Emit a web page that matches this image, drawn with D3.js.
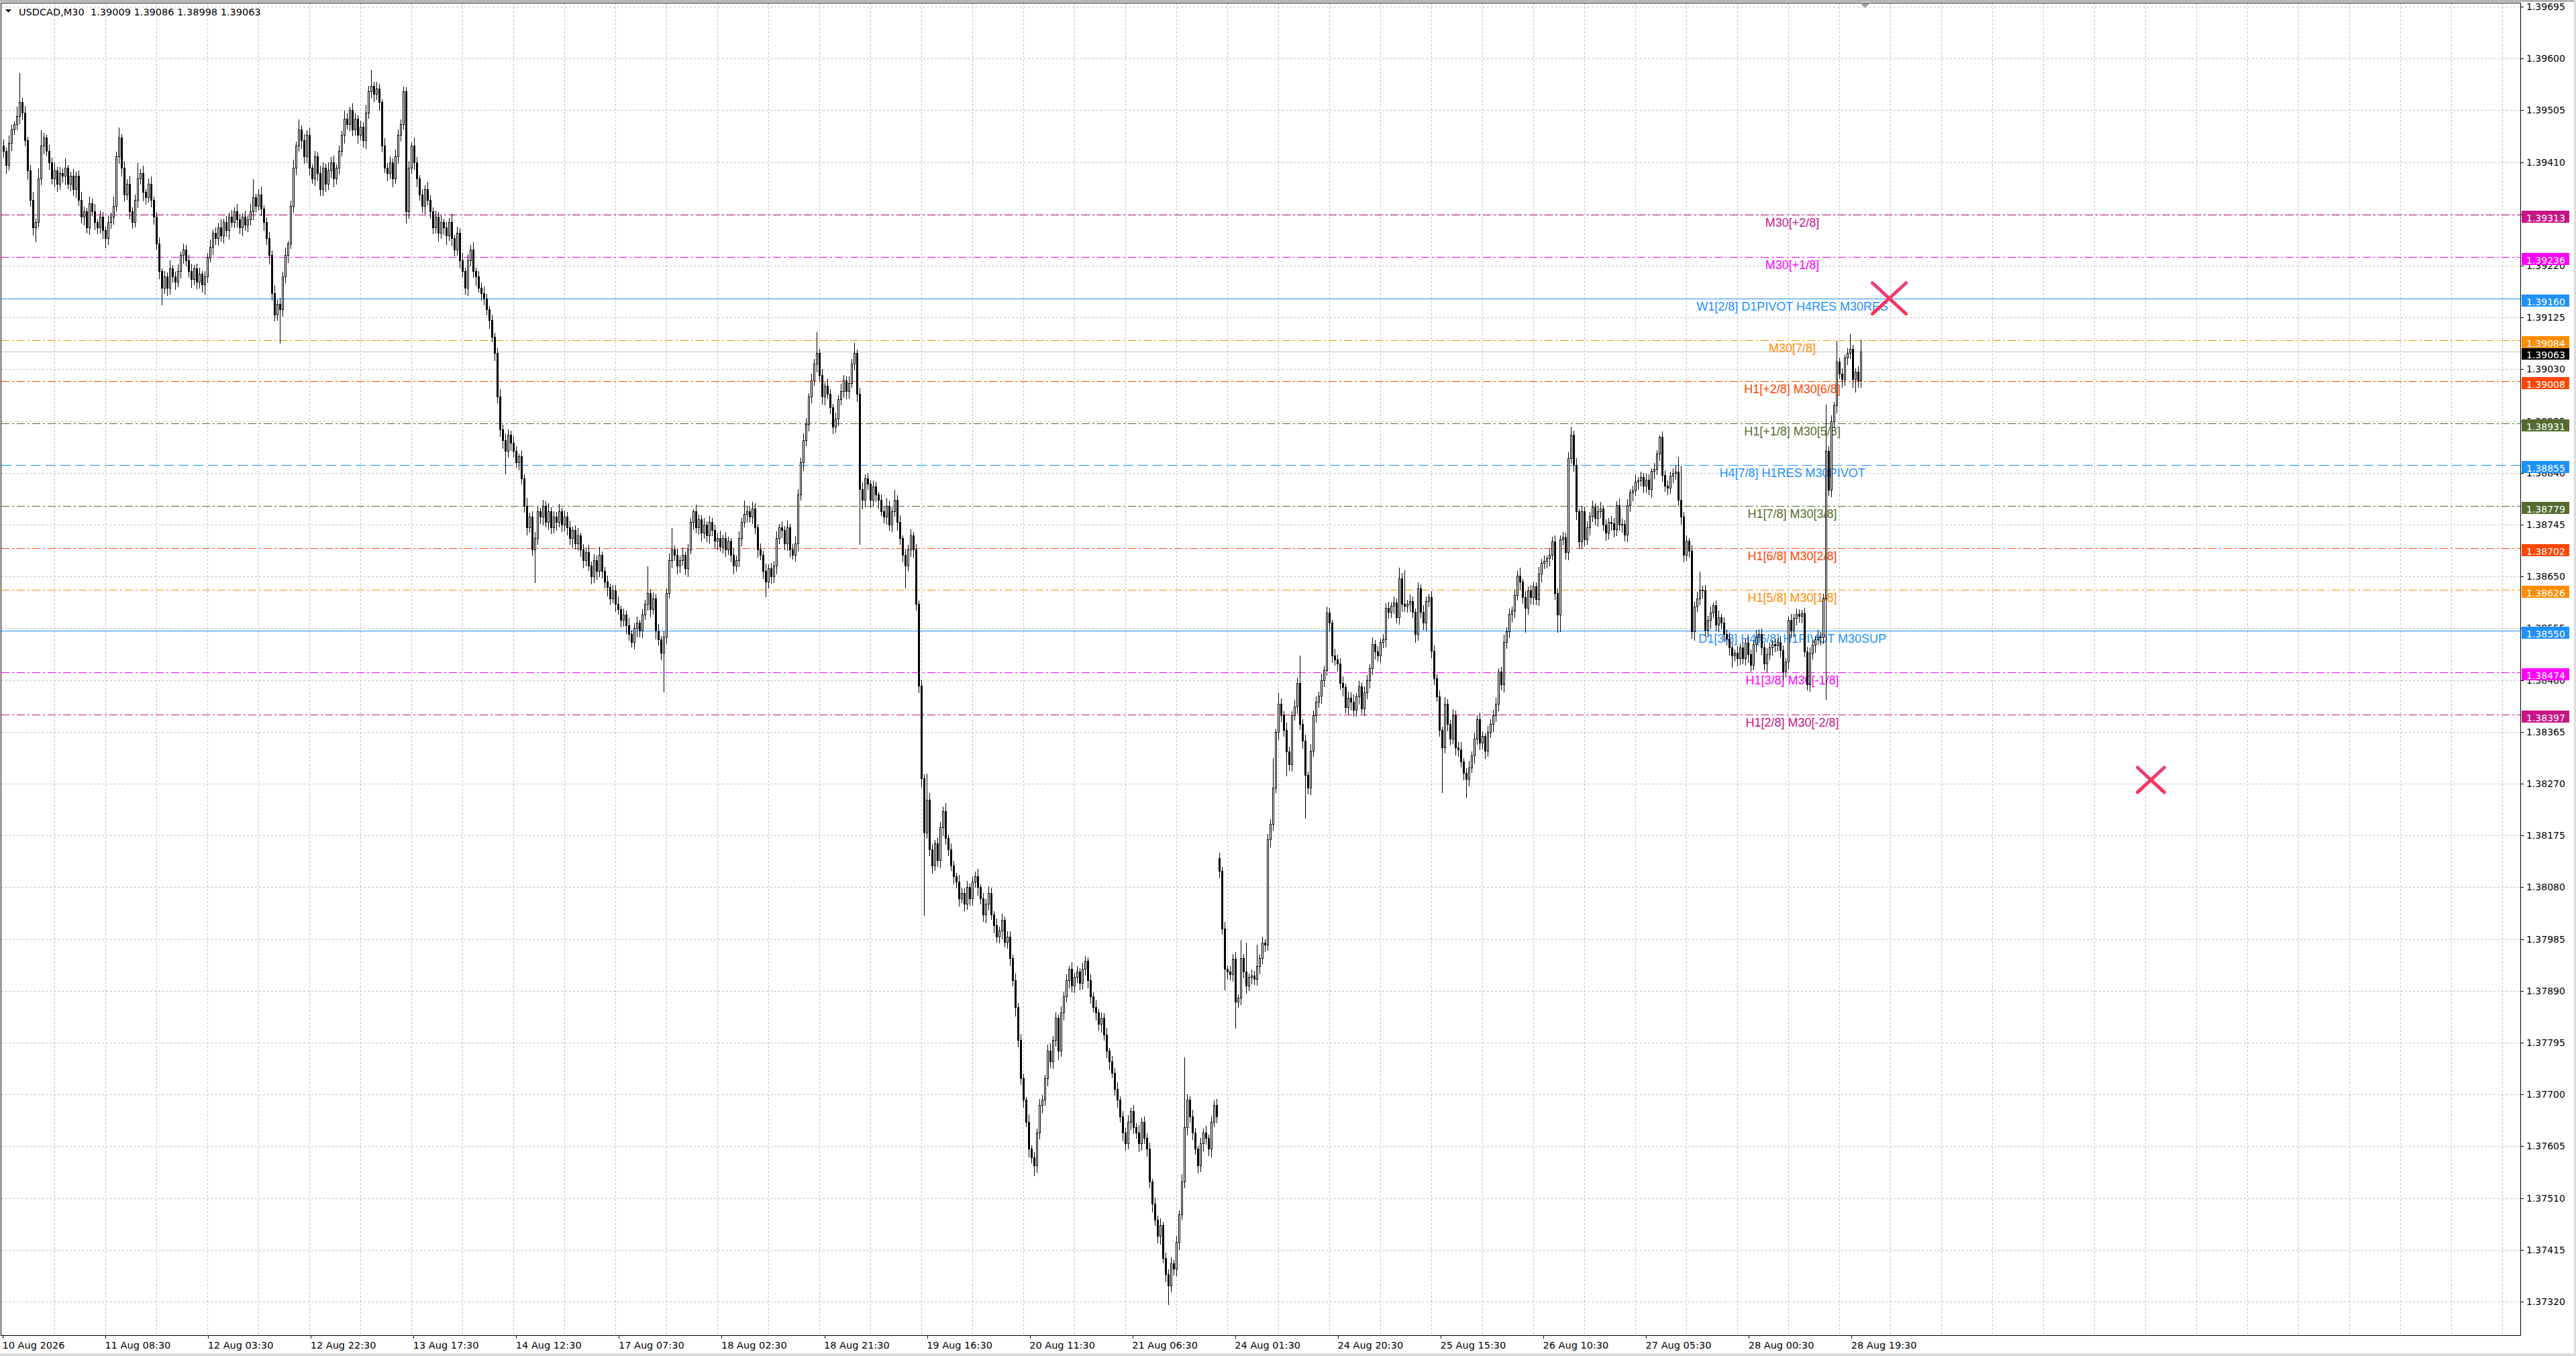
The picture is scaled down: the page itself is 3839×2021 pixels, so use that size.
<!DOCTYPE html>
<html lang="en">
<head>
  <meta charset="UTF-8">
  <title>USDCAD,M30</title>
  <script src="https://d3js.org/d3.v7.min.js"></script>
  <style>
    * { margin: 0; padding: 0; box-sizing: border-box; }
    body { background: #fff; overflow: hidden; }
    #chart svg { display: block; }
  </style>
</head>
<body>
  <div id="chart"></div>
  <script>
    // USDCAD M30, 10 Aug 13:30 .. 28 Aug 23:30, prices in points (0.00001) above 1.37000
    const symbol = "USDCAD,M30";
    const basePrice = 1.37;
    const point = 0.00001;

    const opens = [
      2440, 2430, 2405, 2445, 2470, 2480, 2495, 2520, 2500, 2450,
      2395, 2340, 2290, 2300, 2380, 2440, 2455, 2430, 2410, 2380,
      2395, 2370, 2390, 2385, 2400, 2370, 2385, 2360, 2385, 2340,
      2310, 2320, 2290, 2335, 2320, 2300, 2290, 2310, 2285, 2270,
      2300, 2310, 2330, 2420, 2455, 2400, 2350, 2370, 2320, 2300,
      2340, 2380, 2390, 2355, 2345, 2370, 2340, 2310, 2260, 2210,
      2180, 2200, 2180, 2215, 2200, 2190, 2210, 2240, 2250, 2230,
      2210, 2195, 2215, 2190, 2205, 2185, 2200, 2235, 2255, 2280,
      2270, 2290, 2275, 2300, 2285, 2310, 2300, 2320, 2305, 2290,
      2310, 2295, 2305, 2320, 2345, 2330, 2350, 2325, 2300, 2270,
      2240, 2170, 2130, 2150, 2140, 2200, 2240, 2260, 2330, 2400,
      2440, 2470, 2450, 2420, 2460, 2400, 2380, 2420, 2390, 2360,
      2400, 2370, 2395, 2410, 2380, 2400, 2430, 2460, 2490, 2480,
      2505, 2470, 2490, 2460, 2475, 2450, 2500, 2540, 2550, 2535,
      2545, 2520, 2440, 2400, 2390, 2410, 2380, 2420, 2460, 2480,
      2540, 2320, 2400, 2440, 2410, 2380, 2350, 2330, 2360, 2340,
      2320, 2290, 2310, 2280, 2300, 2290, 2275, 2300, 2270, 2250,
      2280, 2230, 2210, 2180, 2230, 2250, 2210, 2200, 2180, 2170,
      2160, 2140, 2120, 2090, 2060, 1980, 1920, 1900, 1880, 1910,
      1895, 1880, 1860, 1870, 1830, 1780, 1740, 1760, 1700, 1720,
      1770, 1760, 1780, 1750, 1770, 1740, 1760, 1750, 1770, 1745,
      1760, 1740, 1720, 1735, 1710, 1725, 1700, 1680, 1695, 1670,
      1650, 1680, 1660, 1690, 1660, 1640, 1630, 1610, 1625, 1600,
      1590, 1570, 1580, 1560, 1545, 1530, 1555, 1565, 1550, 1580,
      1600, 1620, 1590, 1610, 1550, 1535, 1510, 1540, 1620, 1680,
      1700, 1690, 1670, 1680, 1690, 1665, 1700, 1750, 1770, 1740,
      1755, 1730, 1745, 1725, 1750, 1735, 1715, 1720, 1705, 1720,
      1700, 1715, 1690, 1670, 1680, 1720, 1750, 1765, 1770, 1760,
      1775, 1740, 1700, 1690, 1660, 1640, 1665, 1650, 1670, 1720,
      1740, 1735, 1710, 1740, 1700, 1690, 1710, 1800, 1860, 1900,
      1930, 1980, 2010, 2040, 2060, 2020, 1980, 2000, 1985, 1960,
      1925, 1940, 1975, 1990, 2010, 1990, 2005, 2040, 2060, 1985,
      1810, 1790, 1830, 1820, 1790, 1815, 1800, 1790, 1770, 1760,
      1780, 1745, 1770, 1790, 1750, 1720, 1690, 1670, 1700, 1725,
      1700, 1600, 1450, 1280, 1180, 1240, 1150, 1120, 1160, 1130,
      1190, 1220, 1170, 1150, 1120, 1100, 1090, 1060, 1070, 1050,
      1080, 1060, 1090, 1100, 1080, 1060, 1030, 1050, 1070, 1030,
      1010, 990, 1000, 1020, 980, 990, 950, 910, 860, 800,
      730, 690, 650, 600, 585, 570, 630, 680, 690, 730,
      780, 760, 800, 840, 780, 850, 880, 910, 930, 900,
      915, 925, 905, 930, 945, 910, 880, 860, 850, 830,
      840, 810, 780, 760, 740, 710, 690, 660, 630, 610,
      650, 670, 640, 630, 610, 650, 620, 600, 540, 500,
      470, 440, 460, 400, 370, 350, 390, 380, 430, 480,
      540, 640, 690, 660, 630, 600, 570, 610, 630, 620,
      600, 650, 680, 1133, 1110, 1004, 930, 925, 920, 949,
      870, 878, 950, 925, 900, 915, 918, 912, 935, 950,
      978, 975, 1168, 1196, 1263, 1365, 1416, 1395, 1369, 1329,
      1306, 1396, 1412, 1455, 1380, 1349, 1286, 1263, 1330, 1395,
      1420, 1431, 1460, 1478, 1584, 1565, 1505, 1498, 1490, 1455,
      1447, 1410, 1428, 1420, 1405, 1430, 1448, 1408, 1437, 1460,
      1482, 1526, 1512, 1505, 1530, 1535, 1592, 1585, 1596, 1602,
      1575, 1647, 1600, 1596, 1600, 1605, 1585, 1545, 1628, 1585,
      1565, 1605, 1612, 1514, 1463, 1430, 1369, 1337, 1416, 1380,
      1353, 1396, 1337, 1333, 1311, 1290, 1278, 1300, 1322, 1353,
      1388, 1345, 1357, 1330, 1365, 1380, 1396, 1416, 1475, 1452,
      1530, 1549, 1581, 1588, 1616, 1651, 1640, 1612, 1592, 1624,
      1612, 1632, 1608, 1655, 1675, 1679, 1683, 1690, 1714, 1620,
      1580, 1718, 1722, 1694, 1867, 1910, 1855, 1769, 1714, 1770,
      1718, 1740, 1761, 1777, 1757, 1770, 1775, 1745, 1730, 1750,
      1748, 1737, 1781, 1745, 1746, 1726, 1781, 1804, 1808, 1824,
      1826, 1832, 1816, 1828, 1810, 1843, 1847, 1875, 1906, 1836,
      1816, 1813, 1835, 1840, 1842, 1790, 1760, 1690, 1715, 1697,
      1549, 1595, 1610, 1626, 1624, 1552, 1570, 1584, 1597, 1562,
      1575, 1565, 1545, 1536, 1520, 1505, 1510, 1500, 1520, 1500,
      1529, 1507, 1488, 1526, 1539, 1545, 1520, 1490, 1507, 1520,
      1526, 1524, 1530, 1515, 1475, 1494, 1570, 1550, 1574, 1581,
      1578, 1582, 1513, 1452, 1510, 1525, 1535, 1540, 1538, 1610,
      1880, 1809, 1935, 1964, 2044, 2022, 2012, 2051, 2060, 2067,
      2012, 2025, 2009
    ];

    const closes = [
      2430, 2405, 2445, 2470, 2480, 2495, 2520, 2500, 2450, 2395,
      2340, 2290, 2300, 2380, 2440, 2455, 2430, 2410, 2380, 2395,
      2370, 2390, 2385, 2400, 2370, 2385, 2360, 2385, 2340, 2310,
      2320, 2290, 2335, 2320, 2300, 2290, 2310, 2285, 2270, 2300,
      2310, 2330, 2420, 2455, 2400, 2350, 2370, 2320, 2300, 2340,
      2380, 2390, 2355, 2345, 2370, 2340, 2310, 2260, 2210, 2180,
      2200, 2180, 2215, 2200, 2190, 2210, 2240, 2250, 2230, 2210,
      2195, 2215, 2190, 2205, 2185, 2200, 2235, 2255, 2280, 2270,
      2290, 2275, 2300, 2285, 2310, 2300, 2320, 2305, 2290, 2310,
      2295, 2305, 2320, 2345, 2330, 2350, 2325, 2300, 2270, 2240,
      2170, 2130, 2150, 2140, 2200, 2240, 2260, 2330, 2400, 2440,
      2470, 2450, 2420, 2460, 2400, 2380, 2420, 2390, 2360, 2400,
      2370, 2395, 2410, 2380, 2400, 2430, 2460, 2490, 2480, 2505,
      2470, 2490, 2460, 2475, 2450, 2500, 2540, 2550, 2535, 2545,
      2520, 2440, 2400, 2390, 2410, 2380, 2420, 2460, 2480, 2540,
      2320, 2400, 2440, 2410, 2380, 2350, 2330, 2360, 2340, 2320,
      2290, 2310, 2280, 2300, 2290, 2275, 2300, 2270, 2250, 2280,
      2230, 2210, 2180, 2230, 2250, 2210, 2200, 2180, 2170, 2160,
      2140, 2120, 2090, 2060, 1980, 1920, 1900, 1880, 1910, 1895,
      1880, 1860, 1870, 1830, 1780, 1740, 1760, 1700, 1720, 1770,
      1760, 1780, 1750, 1770, 1740, 1760, 1750, 1770, 1745, 1760,
      1740, 1720, 1735, 1710, 1725, 1700, 1680, 1695, 1670, 1650,
      1680, 1660, 1690, 1660, 1640, 1630, 1610, 1625, 1600, 1590,
      1570, 1580, 1560, 1545, 1530, 1555, 1565, 1550, 1580, 1600,
      1620, 1590, 1610, 1550, 1535, 1510, 1540, 1620, 1680, 1700,
      1690, 1670, 1680, 1690, 1665, 1700, 1750, 1770, 1740, 1755,
      1730, 1745, 1725, 1750, 1735, 1715, 1720, 1705, 1720, 1700,
      1715, 1690, 1670, 1680, 1720, 1750, 1765, 1770, 1760, 1775,
      1740, 1700, 1690, 1660, 1640, 1665, 1650, 1670, 1720, 1740,
      1735, 1710, 1740, 1700, 1690, 1710, 1800, 1860, 1900, 1930,
      1980, 2010, 2040, 2060, 2020, 1980, 2000, 1985, 1960, 1925,
      1940, 1975, 1990, 2010, 1990, 2005, 2040, 2060, 1985, 1810,
      1790, 1830, 1820, 1790, 1815, 1800, 1790, 1770, 1760, 1780,
      1745, 1770, 1790, 1750, 1720, 1690, 1670, 1700, 1725, 1700,
      1600, 1450, 1280, 1180, 1240, 1150, 1120, 1160, 1130, 1190,
      1220, 1170, 1150, 1120, 1100, 1090, 1060, 1070, 1050, 1080,
      1060, 1090, 1100, 1080, 1060, 1030, 1050, 1070, 1030, 1010,
      990, 1000, 1020, 980, 990, 950, 910, 860, 800, 730,
      690, 650, 600, 585, 570, 630, 680, 690, 730, 780,
      760, 800, 840, 780, 850, 880, 910, 930, 900, 915,
      925, 905, 930, 945, 910, 880, 860, 850, 830, 840,
      810, 780, 760, 740, 710, 690, 660, 630, 610, 650,
      670, 640, 630, 610, 650, 620, 600, 540, 500, 470,
      440, 460, 400, 370, 350, 390, 380, 430, 480, 540,
      640, 690, 660, 630, 600, 570, 610, 630, 620, 600,
      650, 680, 660, 1110, 1004, 930, 925, 920, 949, 870,
      878, 950, 925, 900, 915, 918, 912, 935, 950, 978,
      975, 1168, 1196, 1263, 1365, 1416, 1395, 1369, 1329, 1306,
      1396, 1412, 1455, 1380, 1349, 1286, 1263, 1330, 1395, 1420,
      1431, 1460, 1478, 1584, 1565, 1505, 1498, 1490, 1455, 1447,
      1410, 1428, 1420, 1405, 1430, 1448, 1408, 1437, 1460, 1482,
      1526, 1512, 1505, 1530, 1535, 1592, 1585, 1596, 1602, 1575,
      1647, 1600, 1596, 1600, 1605, 1585, 1545, 1628, 1585, 1565,
      1605, 1612, 1514, 1463, 1430, 1369, 1337, 1416, 1380, 1353,
      1396, 1337, 1333, 1311, 1290, 1278, 1300, 1322, 1353, 1388,
      1345, 1357, 1330, 1365, 1380, 1396, 1416, 1475, 1452, 1530,
      1549, 1581, 1588, 1616, 1651, 1640, 1612, 1592, 1624, 1612,
      1632, 1608, 1655, 1675, 1679, 1683, 1690, 1714, 1620, 1580,
      1718, 1722, 1694, 1867, 1910, 1855, 1769, 1714, 1770, 1718,
      1740, 1761, 1777, 1757, 1770, 1775, 1745, 1730, 1750, 1748,
      1737, 1781, 1745, 1746, 1726, 1781, 1804, 1808, 1824, 1826,
      1832, 1816, 1828, 1810, 1843, 1847, 1875, 1906, 1836, 1816,
      1813, 1835, 1840, 1842, 1790, 1760, 1690, 1715, 1697, 1549,
      1595, 1610, 1626, 1624, 1552, 1570, 1584, 1597, 1562, 1575,
      1565, 1545, 1536, 1520, 1505, 1510, 1500, 1520, 1500, 1529,
      1507, 1488, 1526, 1539, 1545, 1520, 1490, 1507, 1520, 1526,
      1524, 1530, 1515, 1475, 1494, 1570, 1550, 1574, 1581, 1578,
      1582, 1513, 1452, 1510, 1525, 1535, 1540, 1538, 1610, 1880,
      1809, 1935, 1964, 2044, 2022, 2012, 2051, 2060, 2067, 2012,
      2025, 2009, 2063
    ];

    // wick length above / below the body, in points
    const wickUp = [
      12, 8, 15, 10, 6, 18, 55, 9, 14, 7,
      11, 16, 8, 20, 30, 10, 6, 13, 9, 15,
      7, 12, 10, 18, 6, 9, 14, 8, 11, 16,
      10, 7, 13, 9, 15, 6, 12, 10, 8, 14,
      9, 18, 11, 20, 7, 13, 10, 16, 8, 12,
      30, 9, 14, 7, 11, 15, 8, 10, 13, 6,
      12, 9, 16, 8, 10, 14, 7, 12, 9, 11,
      15, 8, 10, 13, 6, 12, 9, 14, 8, 11,
      10, 16, 7, 12, 9, 13, 8, 15, 10, 7,
      12, 9, 14, 35, 8, 11, 16, 7, 10, 13,
      9, 15, 8, 12, 10, 14, 7, 11, 16, 9,
      20, 8, 13, 10, 15, 7, 12, 9, 14, 11,
      8, 16, 10, 13, 7, 12, 9, 15, 11, 8,
      14, 10, 7, 12, 9, 16, 11, 30, 8, 13,
      10, 7, 15, 9, 12, 8, 14, 11, 10, 10,
      9, 13, 8, 16, 10, 7, 12, 9, 15, 11,
      8, 12, 10, 14, 7, 11, 9, 16, 8, 13,
      10, 15, 7, 12, 9, 14, 8, 11, 10, 13,
      9, 7, 12, 8, 10, 15, 9, 13, 11, 8,
      14, 10, 7, 12, 9, 16, 8, 11, 13, 10,
      7, 12, 9, 15, 8, 11, 10, 14, 7, 12,
      9, 13, 8, 10, 15, 7, 11, 9, 14, 8,
      12, 10, 16, 7, 9, 13, 8, 11, 10, 14,
      7, 12, 9, 15, 8, 10, 13, 7, 11, 9,
      50, 8, 12, 10, 14, 7, 11, 9, 13, 40,
      8, 12, 10, 15, 7, 11, 9, 5, 13, 10,
      8, 14, 7, 12, 9, 11, 10, 15, 8, 13,
      9, 7, 12, 10, 14, 8, 25, 11, 9, 13,
      10, 7, 12, 8, 15, 9, 11, 10, 14, 7,
      12, 9, 13, 8, 10, 15, 11, 9, 14, 12,
      8, 13, 10, 40, 9, 12, 7, 14, 10, 8,
      12, 9, 15, 11, 8, 13, 10, 20, 7, 12,
      14, 9, 11, 8, 13, 10, 7, 12, 9, 15,
      11, 8, 20, 10, 14, 7, 12, 9, 13, 8,
      10, 7, 12, 9, 50, 14, 10, 8, 13, 11,
      9, 15, 8, 12, 10, 7, 14, 11, 9, 13,
      8, 12, 10, 15, 7, 11, 9, 13, 10, 8,
      14, 9, 12, 7, 11, 10, 8, 13, 9, 12,
      10, 7, 14, 8, 11, 9, 13, 10, 7, 12,
      15, 9, 11, 8, 13, 10, 12, 7, 14, 9,
      11, 8, 13, 10, 7, 12, 9, 15, 8, 11,
      10, 13, 7, 12, 9, 14, 8, 11, 10, 13,
      7, 12, 9, 15, 8, 11, 10, 13, 7, 12,
      9, 14, 8, 11, 10, 13, 7, 12, 9, 15,
      129, 11, 8, 13, 10, 7, 12, 9, 14, 8,
      11, 10, 13, 12, 9, 14, 8, 11, 10, 13,
      7, 34, 9, 55, 8, 12, 10, 41, 9, 13,
      8, 11, 10, 55, 7, 21, 12, 9, 14, 10,
      8, 13, 11, 51, 9, 12, 7, 14, 10, 11,
      9, 13, 8, 12, 10, 7, 14, 9, 11, 13,
      8, 12, 10, 15, 7, 11, 9, 13, 10, 8,
      14, 9, 12, 7, 11, 10, 13, 8, 12, 9,
      20, 11, 63, 8, 13, 10, 7, 12, 9, 14,
      10, 8, 13, 11, 9, 12, 7, 14, 10, 8,
      12, 9, 11, 15, 7, 10, 13, 8, 12, 9,
      14, 10, 7, 12, 9, 11, 13, 8, 10, 15,
      9, 12, 8, 11, 10, 16, 7, 13, 9, 12,
      10, 8, 14, 9, 11, 7, 12, 10, 13, 9,
      8, 11, 10, 12, 16, 9, 13, 7, 11, 10,
      12, 8, 14, 9, 10, 13, 7, 11, 9, 12,
      10, 8, 13, 11, 9, 12, 7, 10, 14, 8,
      11, 9, 12, 10, 7, 13, 8, 4, 11, 10,
      12, 8, 10, 13, 28, 65, 9, 11, 7, 12,
      10, 13, 34, 8, 11, 9, 12, 7, 10, 14,
      8, 11, 9, 12, 10, 7, 13, 9, 11, 8,
      12, 10, 7, 14, 9, 11, 8, 13, 10, 9,
      11, 8, 12, 10, 7, 8, 13, 9, 11, 10,
      8, 12, 9, 11, 10, 7, 13, 9, 10, 87,
      10, 12, 8, 39, 9, 11, 7, 10, 29, 9,
      8, 12, 23
    ];

    const wickDn = [
      10, 14, 8, 12, 7, 9, 13, 11, 8, 15,
      9, 12, 25, 8, 10, 13, 7, 11, 9, 14,
      12, 8, 10, 15, 7, 11, 9, 13, 8, 10,
      14, 9, 11, 7, 12, 10, 8, 13, 15, 9,
      10, 12, 8, 11, 14, 9, 7, 13, 10, 8,
      12, 9, 14, 10, 7, 11, 13, 8, 12, 30,
      9, 13, 10, 8, 12, 7, 11, 14, 9, 10,
      13, 8, 11, 9, 12, 15, 10, 7, 13, 9,
      11, 8, 12, 10, 14, 7, 9, 12, 10, 13,
      8, 11, 9, 14, 10, 7, 12, 13, 9, 15,
      12, 10, 8, 60, 11, 9, 13, 7, 10, 12,
      8, 14, 10, 9, 12, 7, 11, 13, 9, 10,
      12, 8, 11, 14, 9, 10, 7, 13, 8, 12,
      10, 9, 14, 7, 11, 13, 8, 10, 12, 9,
      13, 10, 8, 12, 9, 14, 7, 11, 10, 8,
      20, 12, 9, 11, 14, 8, 10, 13, 7, 12,
      10, 9, 13, 8, 11, 14, 7, 12, 10, 9,
      12, 8, 11, 13, 9, 10, 14, 7, 12, 10,
      9, 13, 8, 12, 10, 11, 14, 40, 9, 12,
      10, 8, 13, 9, 11, 12, 7, 10, 60, 9,
      11, 14, 8, 12, 10, 9, 13, 7, 11, 10,
      12, 9, 14, 8, 10, 11, 13, 9, 7, 12,
      10, 13, 8, 11, 9, 14, 10, 7, 12, 8,
      11, 9, 13, 10, 8, 12, 14, 9, 11, 7,
      10, 12, 8, 13, 9, 11, 70, 10, 8, 12,
      9, 13, 11, 8, 10, 14, 7, 12, 9, 11,
      13, 8, 10, 12, 9, 11, 14, 7, 10, 12,
      8, 11, 13, 9, 10, 12, 7, 14, 9, 11,
      10, 13, 8, 12, 25, 9, 11, 10, 14, 8,
      12, 9, 11, 13, 7, 10, 12, 8, 14, 9,
      11, 10, 8, 13, 9, 12, 14, 7, 10, 11,
      9, 12, 8, 10, 13, 11, 7, 9, 12, 100,
      14, 10, 8, 12, 9, 11, 13, 7, 10, 12,
      9, 11, 8, 13, 10, 12, 40, 9, 11, 14,
      10, 12, 15, 150, 9, 11, 13, 8, 10, 12,
      14, 9, 11, 8, 12, 10, 13, 7, 11, 9,
      12, 10, 8, 13, 9, 11, 14, 10, 7, 12,
      9, 11, 13, 8, 10, 12, 9, 14, 11, 10,
      12, 8, 13, 9, 18, 11, 10, 12, 8, 13,
      9, 11, 10, 14, 8, 12, 9, 13, 10, 11,
      8, 12, 10, 9, 13, 11, 7, 12, 10, 14,
      9, 11, 13, 8, 10, 12, 9, 14, 11, 8,
      12, 10, 9, 13, 11, 8, 12, 10, 14, 9,
      11, 13, 8, 12, 34, 10, 9, 11, 13, 8,
      10, 12, 9, 11, 8, 13, 10, 12, 9, 11,
      13, 8, 10, 11, 9, 36, 12, 8, 10, 47,
      9, 12, 10, 13, 8, 11, 9, 10, 12, 8,
      11, 9, 13, 10, 8, 12, 9, 11, 43, 10,
      12, 8, 11, 9, 13, 78, 10, 12, 8, 11,
      9, 12, 10, 8, 13, 11, 9, 12, 10, 14,
      8, 11, 13, 9, 10, 12, 8, 11, 9, 13,
      10, 12, 8, 11, 9, 13, 10, 8, 12, 9,
      11, 13, 8, 10, 12, 9, 14, 10, 8, 11,
      13, 9, 12, 10, 8, 11, 82, 9, 12, 10,
      8, 13, 11, 9, 12, 31, 10, 8, 13, 9,
      11, 10, 12, 8, 9, 13, 10, 11, 8, 12,
      10, 9, 13, 11, 8, 12, 10, 43, 9, 11,
      12, 8, 10, 13, 9, 11, 12, 8, 10, 31,
      30, 9, 11, 12, 8, 10, 13, 9, 11, 10,
      8, 12, 9, 11, 13, 10, 8, 12, 9, 11,
      13, 10, 8, 12, 9, 11, 10, 13, 8, 12,
      9, 11, 10, 8, 13, 12, 9, 11, 10, 8,
      12, 9, 11, 10, 8, 13, 12, 9, 10, 11,
      14, 8, 10, 12, 9, 11, 13, 8, 10, 12,
      9, 11, 10, 13, 20, 8, 12, 10, 9, 11,
      13, 10, 8, 12, 9, 11, 10, 13, 8, 12,
      10, 9, 11, 13, 8, 12, 10, 9, 11, 10,
      12, 8, 9, 11, 10, 13, 8, 12, 10, 184,
      9, 11, 10, 12, 8, 13, 10, 11, 9, 13,
      22, 10, 11
    ];

    const timeLabels = [
      "10 Aug 2026", "11 Aug 08:30", "12 Aug 03:30", "12 Aug 22:30", "13 Aug 17:30",
      "14 Aug 12:30", "17 Aug 07:30", "18 Aug 02:30", "18 Aug 21:30", "19 Aug 16:30",
      "20 Aug 11:30", "21 Aug 06:30", "24 Aug 01:30", "24 Aug 20:30", "25 Aug 15:30",
      "26 Aug 10:30", "27 Aug 05:30", "28 Aug 00:30", "28 Aug 19:30"
    ];
    const timeLabelBars = [0, 38, 76, 114, 152, 190, 228, 266, 304, 342,
                           380, 418, 456, 494, 532, 570, 608, 646, 684];

    const priceTicks = [
      1.37320, 1.37415, 1.37510, 1.37605, 1.37700, 1.37795, 1.37890, 1.37985,
      1.38080, 1.38175, 1.38270, 1.38365, 1.38460, 1.38555, 1.38650, 1.38745,
      1.38840, 1.38935, 1.39030, 1.39125, 1.39220, 1.39315, 1.39410, 1.39505,
      1.39600, 1.39695
    ];

    const levelNames = [
      "M30[+2/8]", "M30[+1/8]", "W1[2/8] D1PIVOT H4RES M30RES", "M30[7/8]",
      "H1[+2/8] M30[6/8]", "H1[+1/8] M30[5/8]", "H4[7/8] H1RES M30PIVOT",
      "H1[7/8] M30[3/8]", "H1[6/8] M30[2/8]", "H1[5/8] M30[1/8]",
      "D1[3/8] H4[6/8] H1PIVOT M30SUP", "H1[3/8] M30[-1/8]", "H1[2/8] M30[-2/8]"
    ];
    const levelPrices = [1.39313, 1.39236, 1.39160, 1.39084, 1.39008, 1.38931, 1.38855,
                         1.38779, 1.38702, 1.38626, 1.38550, 1.38474, 1.38397];
    const levelColors = ["#C71585", "#FF00FF", "#1E90FF", "#FF8C00", "#FF4500", "#556B2F", "#1E90FF",
                         "#556B2F", "#FF4500", "#FF8C00", "#1E90FF", "#FF00FF", "#C71585"];
    const levelStyles = ["dashdot", "dashdot", "solid", "dashdot", "dashdot", "dashdot", "dash",
                         "dashdot", "dashdot", "dashdot", "solid", "dashdot", "dashdot"];

    const crossBars = [702.5, 800];
    const crossPrices = [1.39160, 1.38277];

    // ---- layout ----
    const W = 3839, H = 2021;
    const frame = {left: 1.5, top: 4.5, right: 3756.5, bottom: 1990.5};
    const barStep = 4, firstBarX = 5.5;
    const labelStep = 153.07;          // time labels drift a little against the bars
    const levelLabelBar = 666.4;
    const crossArm = [[25, 23], [20, 18.5]];
    const dashOf = {dashdot: "12,4,3,4", dash: "15,7", solid: null};

    const n = closes.length;
    if (opens.length !== n || wickUp.length !== n || wickDn.length !== n) {
      throw new Error(`length mismatch ${opens.length} ${n} ${wickUp.length} ${wickDn.length}`);
    }

    const pr = v => basePrice + v * point;
    const fmt = d3.format(".5f");
    const snap = v => Math.round(v) + 0.5;

    const x = d3.scaleLinear()
                .domain([0, n - 1])
                .range([firstBarX, firstBarX + barStep * (n - 1)]);
    const xLabel = d3.scaleLinear()
                     .domain([0, 38])
                     .range([4, 4 + labelStep]);
    const y = d3.scaleLinear()
                .domain([priceTicks[0], priceTicks[priceTicks.length - 1]])
                .range([1940, 10]);

    const svg = d3.select("#chart").append("svg")
                  .attr("width", W).attr("height", H)
                  .style("font-family", "'DejaVu Sans', Verdana, sans-serif");

    // window edges
    svg.append("rect").attr("x", 0).attr("y", 0).attr("width", W).attr("height", 3).attr("fill", "#b4b4b4");
    svg.append("rect").attr("x", W - 3).attr("y", 0).attr("width", 3).attr("height", H).attr("fill", "#dcdcdc");
    svg.append("rect").attr("x", 0).attr("y", H - 4).attr("width", W).attr("height", 4).attr("fill", "#dcdcdc");

    // grid
    const grid = svg.append("g").attr("stroke", "#c0c0c0").attr("stroke-dasharray", "3,3")
                    .attr("shape-rendering", "crispEdges");
    grid.selectAll(".hg").data(priceTicks).join("line").attr("class", "hg")
        .attr("x1", frame.left).attr("x2", frame.right)
        .attr("y1", d => snap(y(d))).attr("y2", d => snap(y(d)));
    const gridBars = d3.range(19, 19 * 50, 19).filter(b => x(b) < frame.right - 2);
    grid.selectAll(".vg").data(gridBars).join("line").attr("class", "vg")
        .attr("x1", d => Math.floor(x(d)) + 0.5).attr("x2", d => Math.floor(x(d)) + 0.5)
        .attr("y1", frame.top).attr("y2", frame.bottom);

    // last price line
    const lastClose = pr(closes[n - 1]);
    svg.append("line")
       .attr("x1", frame.left).attr("x2", frame.right)
       .attr("y1", snap(y(lastClose))).attr("y2", snap(y(lastClose)))
       .attr("stroke", "#c0c0c0").attr("shape-rendering", "crispEdges");

    // level lines
    const levels = levelPrices.map((p, i) => ({p, name: levelNames[i], color: levelColors[i], style: levelStyles[i]}));
    svg.append("g").selectAll("line").data(levels).join("line")
       .attr("x1", frame.left).attr("x2", frame.right)
       .attr("y1", d => snap(y(d.p))).attr("y2", d => snap(y(d.p)))
       .attr("stroke", d => d.color)
       .attr("stroke-dasharray", d => dashOf[d.style])
       .attr("shape-rendering", "crispEdges");

    // level labels
    svg.append("g").selectAll("text").data(levels).join("text")
       .attr("x", x(levelLabelBar))
       .attr("y", d => snap(y(d.p)) + 17)
       .attr("text-anchor", "middle")
       .style("font-family", "'Liberation Sans', Arial, sans-serif")
       .style("font-size", "18px")
       .attr("fill", d => d.color)
       .text(d => d.name);

    // cross marks
    const defs = svg.append("defs");
    const grad = defs.append("linearGradient").attr("id", "crossGrad")
                     .attr("x1", 0).attr("y1", 0).attr("x2", 0).attr("y2", 1);
    grad.append("stop").attr("offset", "0%").attr("stop-color", "#E4437E");
    grad.append("stop").attr("offset", "100%").attr("stop-color", "#FF2D52");
    crossBars.forEach((b, i) => {
      const cx = x(b), cy = y(crossPrices[i]);
      const [ax, ay] = crossArm[i];
      svg.append("path")
         .attr("d", `M${cx - ax},${cy - ay}L${cx + ax},${cy + ay}M${cx - ax},${cy + ay}L${cx + ax},${cy - ay}`)
         .attr("stroke", "url(#crossGrad)")
         .attr("stroke-width", 5)
         .attr("stroke-linecap", "round")
         .attr("fill", "none");
    });

    // candles
    const bars = closes.map((c, i) => {
      const o = opens[i];
      return {i, o, c, h: Math.max(o, c) + wickUp[i], l: Math.min(o, c) - wickDn[i]};
    });
    const cxOf = i => Math.floor(x(i)) + 0.5;
    const candles = svg.append("g").attr("shape-rendering", "crispEdges");
    candles.selectAll(".wick").data(bars).join("line").attr("class", "wick")
           .attr("x1", d => cxOf(d.i)).attr("x2", d => cxOf(d.i))
           .attr("y1", d => snap(y(pr(d.h)))).attr("y2", d => snap(y(pr(d.l))) + 1)
           .attr("stroke", "#000");
    candles.selectAll(".body").data(bars.filter(d => Math.abs(snap(y(pr(d.o))) - snap(y(pr(d.c)))) >= 1))
           .join("rect").attr("class", "body")
           .attr("x", d => cxOf(d.i) - 1)
           .attr("width", 2)
           .attr("y", d => snap(y(pr(Math.max(d.o, d.c)))))
           .attr("height", d => snap(y(pr(Math.min(d.o, d.c)))) - snap(y(pr(Math.max(d.o, d.c)))))
           .attr("fill", d => d.c >= d.o ? "#fff" : "#000")
           .attr("stroke", "#000");
    candles.selectAll(".doji").data(bars.filter(d => Math.abs(snap(y(pr(d.o))) - snap(y(pr(d.c)))) < 1))
           .join("line").attr("class", "doji")
           .attr("x1", d => cxOf(d.i) - 1.5).attr("x2", d => cxOf(d.i) + 2.5)
           .attr("y1", d => snap(y(pr(d.c)))).attr("y2", d => snap(y(pr(d.c))))
           .attr("stroke", "#000");

    // frame
    svg.append("rect")
       .attr("x", frame.left).attr("y", frame.top)
       .attr("width", frame.right - frame.left).attr("height", frame.bottom - frame.top)
       .attr("fill", "none").attr("stroke", "#000").attr("shape-rendering", "crispEdges");

    // chart shift marker
    const shiftX = x(n + 0.5);
    svg.append("path")
       .attr("d", `M${shiftX - 7.5},${frame.top}L${shiftX + 7.5},${frame.top}L${shiftX},${frame.top + 7.5}Z`)
       .attr("fill", "#a0a0a0");

    // price axis
    const axisR = svg.append("g");
    axisR.selectAll("line").data(priceTicks).join("line")
         .attr("x1", frame.right).attr("x2", frame.right + 4)
         .attr("y1", d => snap(y(d))).attr("y2", d => snap(y(d)))
         .attr("stroke", "#000").attr("shape-rendering", "crispEdges");
    axisR.selectAll("text").data(priceTicks).join("text")
         .attr("x", frame.right + 8.5)
         .attr("y", d => y(d) + 5)
         .style("font-size", "14px")
         .attr("fill", "#000")
         .text(d => fmt(d));

    // time axis
    const axisB = svg.append("g");
    axisB.selectAll("line").data(timeLabelBars).join("line")
         .attr("x1", d => snap(xLabel(d))).attr("x2", d => snap(xLabel(d)))
         .attr("y1", frame.bottom).attr("y2", frame.bottom + 4)
         .attr("stroke", "#000").attr("shape-rendering", "crispEdges");
    axisB.selectAll("text").data(timeLabelBars).join("text")
         .attr("x", d => xLabel(d) - 0.5)
         .attr("y", frame.bottom + 19)
         .style("font-size", "14.5px")
         .attr("fill", "#000")
         .text((d, i) => timeLabels[i]);

    // price tags on the axis
    const tags = [{p: lastClose, color: "#000"}].concat(levels.map(d => ({p: d.p, color: d.color})));
    const tagG = svg.append("g");
    tags.forEach(t => {
      const ly = snap(y(t.p));
      tagG.append("rect")
          .attr("x", frame.right + 1.5).attr("y", ly - 6.5)
          .attr("width", 71).attr("height", 18)
          .attr("fill", t.color);
      tagG.append("text")
          .attr("x", frame.right + 8.5).attr("y", ly + 9)
          .style("font-size", "14px")
          .attr("fill", "#fff")
          .text(fmt(t.p));
    });

    // header
    const last = bars[n - 1];
    svg.append("path").attr("d", "M8,14L17,14L12.5,18.5Z").attr("fill", "#000");
    svg.append("text")
       .attr("x", 28).attr("y", 23)
       .style("font-size", "14.5px")
       .style("white-space", "pre")
       .attr("fill", "#000")
       .text(`${symbol}  ${fmt(pr(last.o))} ${fmt(pr(last.h))} ${fmt(pr(last.l))} ${fmt(pr(last.c))}`);
  </script>
</body>
</html>
